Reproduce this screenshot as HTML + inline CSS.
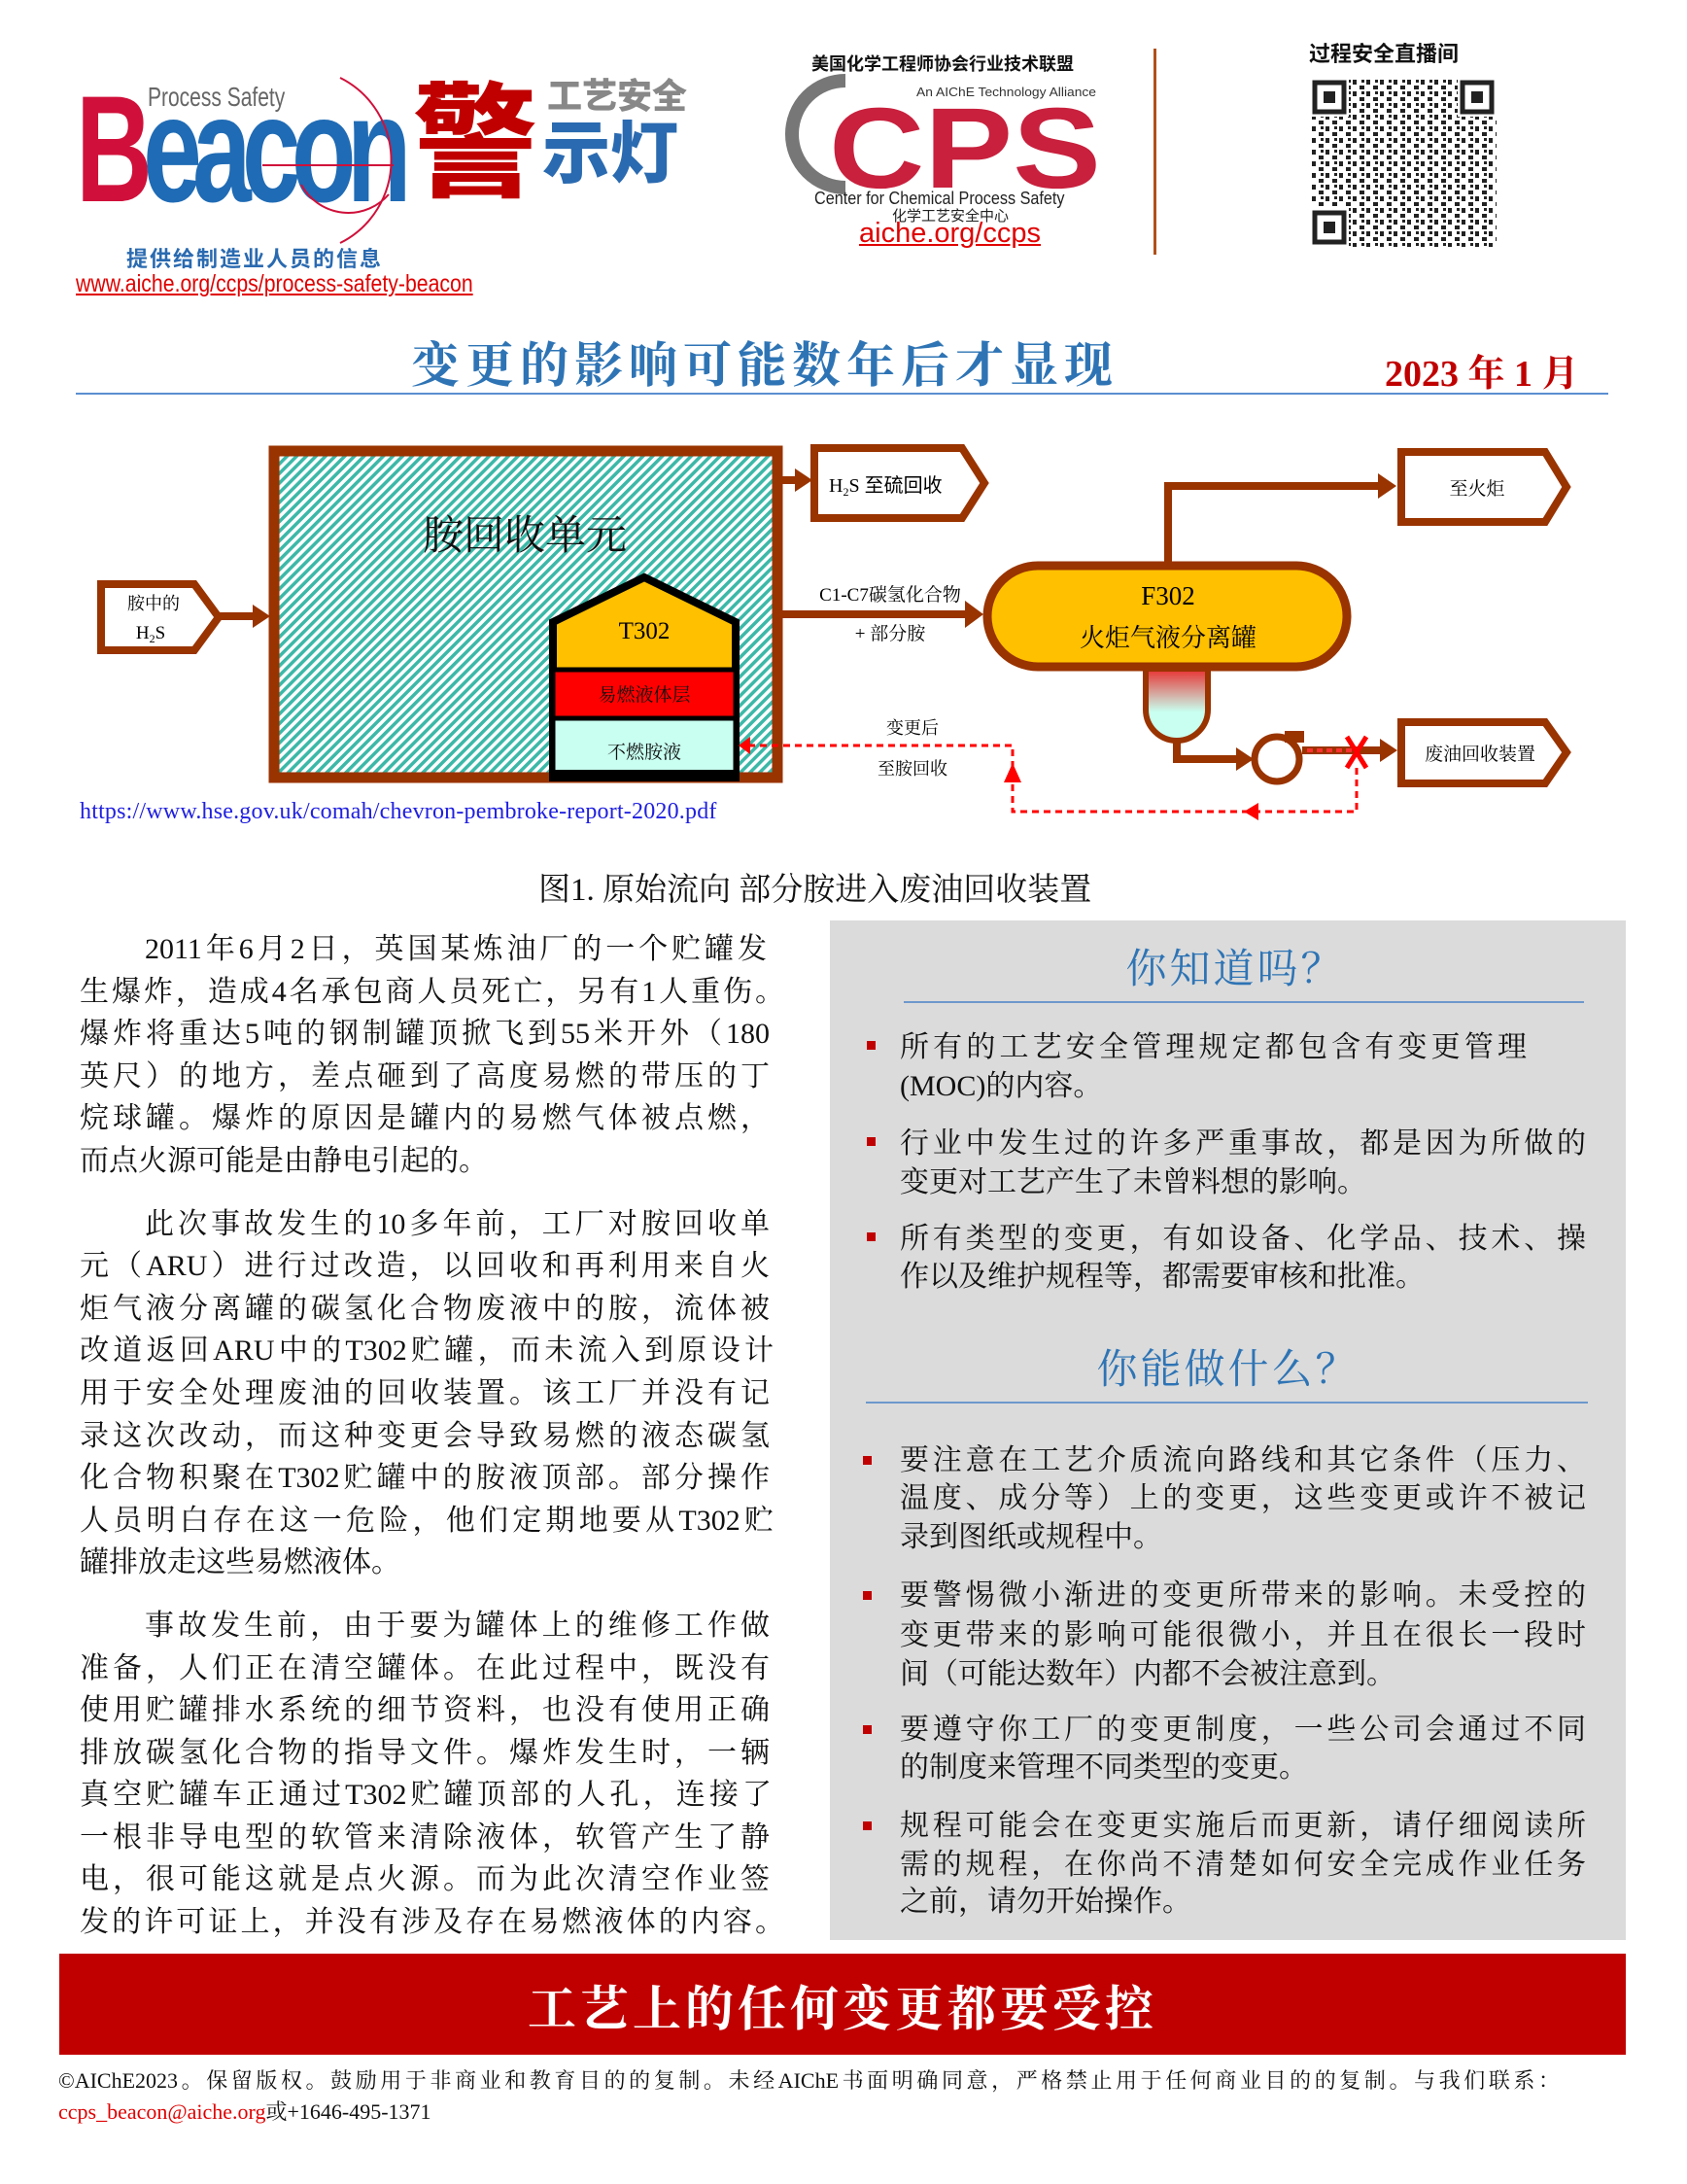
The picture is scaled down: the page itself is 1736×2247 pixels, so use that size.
<!DOCTYPE html>
<html><head><meta charset="utf-8"><style>
*{margin:0;padding:0;box-sizing:border-box}
body{width:1736px;height:2247px;background:#fff;position:relative;overflow:hidden;font-family:"Liberation Serif","Noto Serif CJK SC",serif;color:#111}
.a{position:absolute}
.ln{position:absolute;font-size:30px;line-height:40px;height:40px;text-align:justify;text-align-last:justify;overflow:hidden;white-space:normal}
.ll{text-align-last:left}
.sq{position:absolute;width:9px;height:9px;background:#C00000}
</style></head><body>

<!-- header logos -->
<div class="a" style="left:78px;top:76px;font-family:'Liberation Sans',sans-serif;font-weight:bold;font-size:156px;line-height:156px;letter-spacing:-14px;transform:scaleX(0.7);transform-origin:left top;"><span style="color:#D0103A">B</span><span style="color:#1F6BB5">eacon</span></div>
<div class="a" style="left:152px;top:84px;font-family:'Liberation Sans',sans-serif;font-size:28px;color:#666;transform:scaleX(0.75);transform-origin:left top">Process Safety</div>
<svg class="a" style="left:250px;top:70px" width="170" height="200"><path d="M100 10 A95 95 0 0 1 100 180" fill="none" stroke="#D0103A" stroke-width="2"/><path d="M60 120 A55 55 0 0 0 150 130" fill="none" stroke="#D0103A" stroke-width="2"/><line x1="20" y1="100" x2="155" y2="100" stroke="#D0103A" stroke-width="2"/></svg>
<div class="a" style="left:425px;top:72px;font-family:'Noto Sans CJK SC',sans-serif;font-weight:900;font-size:128px;line-height:130px;color:#C00000">警</div>
<div class="a" style="left:563px;top:70px;font-family:'Noto Sans CJK SC',sans-serif;font-weight:900;font-size:36px;color:#888">工艺安全</div>
<div class="a" style="left:558px;top:108px;font-family:'Noto Sans CJK SC',sans-serif;font-weight:900;font-size:70px;line-height:90px;color:#2A6AB0">示灯</div>
<div class="a" style="left:130px;top:249px;font-family:'Noto Sans CJK SC',sans-serif;font-weight:bold;font-size:22px;color:#2A6AB0;letter-spacing:2px">提供给制造业人员的信息</div>
<div class="a" style="left:78px;top:278px;font-family:'Liberation Sans',sans-serif;font-size:25px;color:#E00000;text-decoration:underline;transform:scaleX(0.85);transform-origin:left top">www.aiche.org/ccps/process-safety-beacon</div>

<div class="a" style="left:835px;top:52px;font-family:'Noto Sans CJK SC',sans-serif;font-weight:bold;font-size:18px;color:#111">美国化学工程师协会行业技术联盟</div>
<svg class="a" style="left:795px;top:75px" width="350" height="130"><path d="M75 8 A55 55 0 1 0 75 118" fill="none" stroke="#777" stroke-width="14"/><text x="148" y="24" font-family="Liberation Sans" font-size="13" fill="#333" textLength="185" lengthAdjust="spacingAndGlyphs">An AIChE Technology Alliance</text><text x="58" y="118" font-family="Liberation Sans" font-weight="bold" font-size="118" fill="#C8203D" textLength="280" lengthAdjust="spacingAndGlyphs">CPS</text></svg>
<div class="a" style="left:838px;top:194px;font-family:'Liberation Sans',sans-serif;font-size:18px;color:#222;transform:scaleX(0.9);transform-origin:left top">Center for Chemical Process Safety</div>
<div class="a" style="left:918px;top:213px;font-family:'Noto Sans CJK SC',sans-serif;font-size:15px;line-height:18px;color:#222">化学工艺安全中心</div>
<div class="a" style="left:884px;top:223px;font-family:'Liberation Sans',sans-serif;font-size:29px;line-height:34px;color:#E00000;text-decoration:underline">aiche.org/ccps</div>
<div class="a" style="left:1187px;top:50px;width:3px;height:212px;background:#B0501A"></div>

<div class="a" style="left:1347px;top:38px;font-family:'Noto Sans CJK SC',sans-serif;font-weight:bold;font-size:22px;color:#111">过程安全直播间</div>
<svg class="a" style="left:1350px;top:82px" width="190" height="172">
<defs><pattern id="qr" width="14" height="12" patternUnits="userSpaceOnUse"><rect x="0" y="0" width="4" height="5" fill="#222"/><rect x="7" y="6" width="5" height="4" fill="#222"/><rect x="9" y="0" width="3" height="3" fill="#222"/></pattern></defs>
<rect width="190" height="172" fill="url(#qr)"/>
<g fill="#fff"><rect x="0" y="0" width="38" height="38"/><rect x="150" y="0" width="40" height="38"/><rect x="0" y="132" width="38" height="40"/></g>
<g fill="none" stroke="#222" stroke-width="5"><rect x="3" y="3" width="30" height="30"/><rect x="155" y="3" width="30" height="30"/><rect x="3" y="137" width="30" height="30"/></g>
<g fill="#222"><rect x="12" y="12" width="12" height="12"/><rect x="164" y="12" width="12" height="12"/><rect x="12" y="146" width="12" height="12"/></g>
</svg>

<!-- title -->
<div class="a" style="left:423px;top:340px;font-family:'Noto Serif CJK SC',serif;font-weight:bold;font-size:50px;line-height:64px;color:#2E74B5;letter-spacing:6px">变更的影响可能数年后才显现</div>
<div class="a" style="left:1425px;top:353px;font-family:'Liberation Serif','Noto Serif CJK SC',serif;font-weight:bold;font-size:38px;color:#C00000">2023 年 1 月</div>
<div class="a" style="left:78px;top:404px;width:1577px;height:2px;background:#5B8FD0"></div>

<!-- diagram -->
<svg class="a" style="left:0;top:440px" width="1736" height="420">
<defs>
<pattern id="h" width="7" height="7" patternUnits="userSpaceOnUse" patternTransform="rotate(45)"><rect width="7" height="7" fill="#fff"/><rect width="3.5" height="7" fill="#3CB8A8"/></pattern>
<linearGradient id="g" x1="0" y1="0" x2="0" y2="1"><stop offset="0" stop-color="#E83030"/><stop offset="0.6" stop-color="#C8FFF0"/><stop offset="1" stop-color="#C8FFF0"/></linearGradient>
</defs>
<g transform="translate(0,-440)">
<rect x="282" y="464" width="518" height="336" fill="url(#h)" stroke="#993300" stroke-width="11"/>
<text x="540" y="565" text-anchor="middle" font-family="Noto Serif CJK SC" font-size="42" fill="#111">胺回收单元</text>
<path d="M569 800 V640 L663 594 L757 640 V800 Z" fill="#FFC000" stroke="#000" stroke-width="8"/>
<rect x="569" y="689" width="188" height="50" fill="#FF0000" stroke="#000" stroke-width="5"/>
<rect x="569" y="739" width="188" height="57" fill="#C8FFF0" stroke="#000" stroke-width="5"/>
<rect x="567" y="792" width="192" height="12" fill="#000"/>
<text x="663" y="657" text-anchor="middle" font-family="Liberation Serif" font-size="25">T302</text>
<text x="663" y="721" text-anchor="middle" font-family="Noto Serif CJK SC" font-size="19" fill="#111">易燃液体层</text>
<text x="663" y="780" text-anchor="middle" font-family="Noto Serif CJK SC" font-size="19" fill="#111">不燃胺液</text>
<path d="M104 601 H200 L225 635 L200 669 H104 Z" fill="#fff" stroke="#993300" stroke-width="8"/>
<text x="158" y="627" text-anchor="middle" font-family="Noto Serif CJK SC" font-size="18">胺中的</text>
<text x="155" y="657" text-anchor="middle" font-family="Liberation Serif" font-size="19">H<tspan font-size="12" dy="4">2</tspan><tspan dy="-4">S</tspan></text>
<line x1="225" y1="634" x2="262" y2="634" stroke="#993300" stroke-width="8"/><path d="M260 622 L278 634 L260 646 Z" fill="#993300"/>
<path d="M838 461 H990 L1013 497 L990 533 H838 Z" fill="#fff" stroke="#993300" stroke-width="8"/>
<text x="853" y="506" font-family="Liberation Serif" font-size="20">H<tspan font-size="12" dy="4">2</tspan><tspan dy="-4">S 至硫回收</tspan></text>
<line x1="805" y1="494" x2="822" y2="494" stroke="#993300" stroke-width="8"/><path d="M818 482 L836 494 L818 506 Z" fill="#993300"/>
<line x1="805" y1="632" x2="995" y2="632" stroke="#993300" stroke-width="8"/><path d="M993 618 L1012 632 L993 646 Z" fill="#993300"/>
<text x="916" y="618" text-anchor="middle" font-family="Liberation Serif,Noto Serif CJK SC" font-size="19">C1-C7碳氢化合物</text>
<text x="916" y="658" text-anchor="middle" font-family="Liberation Serif,Noto Serif CJK SC" font-size="19">+ 部分胺</text>
<polyline points="1202,582 1202,500 1420,500" fill="none" stroke="#993300" stroke-width="8"/><path d="M1418 487 L1437 500 L1418 513 Z" fill="#993300"/>
<path d="M1442 465 H1590 L1612 501 L1590 537 H1442 Z" fill="#fff" stroke="#993300" stroke-width="8"/>
<text x="1520" y="509" text-anchor="middle" font-family="Noto Serif CJK SC" font-size="19">至火炬</text>
<path d="M1179 688 V730 A32 32 0 0 0 1243 730 V688 Z" fill="url(#g)" stroke="#993300" stroke-width="6"/>
<rect x="1016" y="582" width="370" height="104" rx="52" fill="#FFC000" stroke="#993300" stroke-width="9"/>
<text x="1202" y="622" text-anchor="middle" font-family="Liberation Serif" font-size="27">F302</text>
<text x="1202" y="665" text-anchor="middle" font-family="Noto Serif CJK SC" font-size="26">火炬气液分离罐</text>
<polyline points="1211,762 1211,781 1275,781" fill="none" stroke="#993300" stroke-width="8"/><path d="M1272 769 L1290 781 L1272 793 Z" fill="#993300"/>
<circle cx="1314" cy="781" r="23" fill="#fff" stroke="#993300" stroke-width="7"/><rect x="1322" y="752" width="20" height="12" fill="#993300"/>
<line x1="1340" y1="772" x2="1422" y2="772" stroke="#993300" stroke-width="8"/><path d="M1420 760 L1438 772 L1420 784 Z" fill="#993300"/>
<line x1="1345" y1="772" x2="1395" y2="772" stroke="#FF3030" stroke-width="4" stroke-dasharray="6,4"/>
<path d="M1386 758 L1406 790 M1406 758 L1386 790" stroke="#FF0000" stroke-width="5"/>
<path d="M1442 743 H1590 L1612 774 L1590 806 H1442 Z" fill="#fff" stroke="#993300" stroke-width="8"/>
<text x="1523" y="782" text-anchor="middle" font-family="Noto Serif CJK SC" font-size="19">废油回收装置</text>
<polyline points="1396,790 1396,835 1042,835 1042,767 772,767" fill="none" stroke="#FF0000" stroke-width="3" stroke-dasharray="7,5"/>
<path d="M772 758 L760 767 L772 776 Z" fill="#FF0000"/>
<path d="M1033 805 L1042 785 L1051 805 Z" fill="#FF0000"/>
<path d="M1295 826 L1280 835 L1295 844 Z" fill="#FF0000"/>
<text x="939" y="755" text-anchor="middle" font-family="Noto Serif CJK SC" font-size="18">变更后</text>
<text x="939" y="797" text-anchor="middle" font-family="Noto Serif CJK SC" font-size="18">至胺回收</text>
</g></svg>
<div class="a" style="left:82px;top:822px;font-size:24px;color:#2020E0;letter-spacing:0.2px">https://www.hse.gov.uk/comah/chevron-pembroke-report-2020.pdf</div>
<div class="a" style="left:554px;top:889px;font-family:'Liberation Serif','Noto Serif CJK SC',serif;font-size:33px;color:#111">图1. 原始流向 部分胺进入废油回收装置</div>

<!-- left column -->
<div class="ln" style="left:149px;top:957px;width:640px">2011年6月2日，英国某炼油厂的一个贮罐发</div>
<div class="ln" style="left:82px;top:1001px;width:725px">生爆炸，造成4名承包商人员死亡，另有1人重伤。</div>
<div class="ln" style="left:82px;top:1044px;width:710px">爆炸将重达5吨的钢制罐顶掀飞到55米开外（180</div>
<div class="ln" style="left:82px;top:1088px;width:710px">英尺）的地方，差点砸到了高度易燃的带压的丁</div>
<div class="ln" style="left:82px;top:1131px;width:710px">烷球罐。爆炸的原因是罐内的易燃气体被点燃，</div>
<div class="ln ll" style="left:82px;top:1175px;width:710px">而点火源可能是由静电引起的。</div>

<div class="ln" style="left:149px;top:1240px;width:643px">此次事故发生的10多年前，工厂对胺回收单</div>
<div class="ln" style="left:82px;top:1283px;width:710px">元（ARU）进行过改造，以回收和再利用来自火</div>
<div class="ln" style="left:82px;top:1327px;width:710px">炬气液分离罐的碳氢化合物废液中的胺，流体被</div>
<div class="ln" style="left:82px;top:1370px;width:714px">改道返回ARU中的T302贮罐，而未流入到原设计</div>
<div class="ln" style="left:82px;top:1414px;width:710px">用于安全处理废油的回收装置。该工厂并没有记</div>
<div class="ln" style="left:82px;top:1458px;width:710px">录这次改动，而这种变更会导致易燃的液态碳氢</div>
<div class="ln" style="left:82px;top:1501px;width:710px">化合物积聚在T302贮罐中的胺液顶部。部分操作</div>
<div class="ln" style="left:82px;top:1545px;width:714px">人员明白存在这一危险，他们定期地要从T302贮</div>
<div class="ln ll" style="left:82px;top:1588px;width:710px">罐排放走这些易燃液体。</div>

<div class="ln" style="left:149px;top:1653px;width:643px">事故发生前，由于要为罐体上的维修工作做</div>
<div class="ln" style="left:82px;top:1697px;width:710px">准备，人们正在清空罐体。在此过程中，既没有</div>
<div class="ln" style="left:82px;top:1740px;width:710px">使用贮罐排水系统的细节资料，也没有使用正确</div>
<div class="ln" style="left:82px;top:1784px;width:710px">排放碳氢化合物的指导文件。爆炸发生时，一辆</div>
<div class="ln" style="left:82px;top:1827px;width:712px">真空贮罐车正通过T302贮罐顶部的人孔，连接了</div>
<div class="ln" style="left:82px;top:1871px;width:710px">一根非导电型的软管来清除液体，软管产生了静</div>
<div class="ln" style="left:82px;top:1914px;width:710px">电，很可能这就是点火源。而为此次清空作业签</div>
<div class="ln" style="left:82px;top:1958px;width:725px">发的许可证上，并没有涉及存在易燃液体的内容。</div>

<!-- right box -->
<div class="a" style="left:854px;top:947px;width:819px;height:1049px;background:#DBDBDB"></div>
<div class="a" style="left:854px;top:966px;width:819px;text-align:center;font-family:'Noto Serif CJK SC',serif;font-size:42px;line-height:56px;color:#2E74B5;letter-spacing:3px;padding-left:15px">你知道吗？</div>
<div class="a" style="left:930px;top:1030px;width:700px;height:2px;background:#6D98CC"></div>
<div class="sq" style="left:892px;top:1071px"></div>
<div class="ln" style="left:926px;top:1058px;width:645px">所有的工艺安全管理规定都包含有变更管理</div>
<div class="ln ll" style="left:926px;top:1098px;width:700px">(MOC)的内容。</div>
<div class="sq" style="left:892px;top:1170px"></div>
<div class="ln" style="left:926px;top:1157px;width:706px">行业中发生过的许多严重事故，都是因为所做的</div>
<div class="ln ll" style="left:926px;top:1197px;width:706px">变更对工艺产生了未曾料想的影响。</div>
<div class="sq" style="left:892px;top:1268px"></div>
<div class="ln" style="left:926px;top:1255px;width:706px">所有类型的变更，有如设备、化学品、技术、操</div>
<div class="ln ll" style="left:926px;top:1294px;width:706px">作以及维护规程等，都需要审核和批准。</div>

<div class="a" style="left:854px;top:1378px;width:819px;text-align:center;font-family:'Noto Serif CJK SC',serif;font-size:42px;line-height:56px;color:#2E74B5;letter-spacing:3px">你能做什么？</div>
<div class="a" style="left:891px;top:1442px;width:743px;height:2px;background:#6D98CC"></div>
<div class="sq" style="left:888px;top:1498px"></div>
<div class="ln" style="left:926px;top:1483px;width:706px">要注意在工艺介质流向路线和其它条件（压力、</div>
<div class="ln" style="left:926px;top:1522px;width:706px">温度、成分等）上的变更，这些变更或许不被记</div>
<div class="ln ll" style="left:926px;top:1562px;width:706px">录到图纸或规程中。</div>
<div class="sq" style="left:888px;top:1637px"></div>
<div class="ln" style="left:926px;top:1622px;width:706px">要警惕微小渐进的变更所带来的影响。未受控的</div>
<div class="ln" style="left:926px;top:1663px;width:706px">变更带来的影响可能很微小，并且在很长一段时</div>
<div class="ln ll" style="left:926px;top:1703px;width:706px">间（可能达数年）内都不会被注意到。</div>
<div class="sq" style="left:888px;top:1775px"></div>
<div class="ln" style="left:926px;top:1760px;width:706px">要遵守你工厂的变更制度，一些公司会通过不同</div>
<div class="ln ll" style="left:926px;top:1799px;width:706px">的制度来管理不同类型的变更。</div>
<div class="sq" style="left:888px;top:1874px"></div>
<div class="ln" style="left:926px;top:1859px;width:706px">规程可能会在变更实施后而更新，请仔细阅读所</div>
<div class="ln" style="left:926px;top:1899px;width:706px">需的规程，在你尚不清楚如何安全完成作业任务</div>
<div class="ln ll" style="left:926px;top:1937px;width:706px">之前，请勿开始操作。</div>

<!-- banner -->
<div class="a" style="left:61px;top:2010px;width:1612px;height:104px;background:#C00000"></div>
<div class="a" style="left:61px;top:2030px;width:1612px;text-align:center;font-family:'Noto Serif CJK SC',serif;font-weight:bold;font-size:50px;line-height:66px;color:#fff;letter-spacing:4px">工艺上的任何变更都要受控</div>

<!-- footer -->
<div class="a" style="left:60px;top:2126px;width:1545px;font-size:22px;line-height:30px;text-align:justify;text-align-last:justify">©AIChE2023。保留版权。鼓励用于非商业和教育目的的复制。未经AIChE书面明确同意，严格禁止用于任何商业目的的复制。与我们联系：</div>
<div class="a" style="left:60px;top:2158px;font-size:22px;line-height:30px"><span style="color:#E00000">ccps_beacon@aiche.org</span>或+1646-495-1371</div>
</body></html>
